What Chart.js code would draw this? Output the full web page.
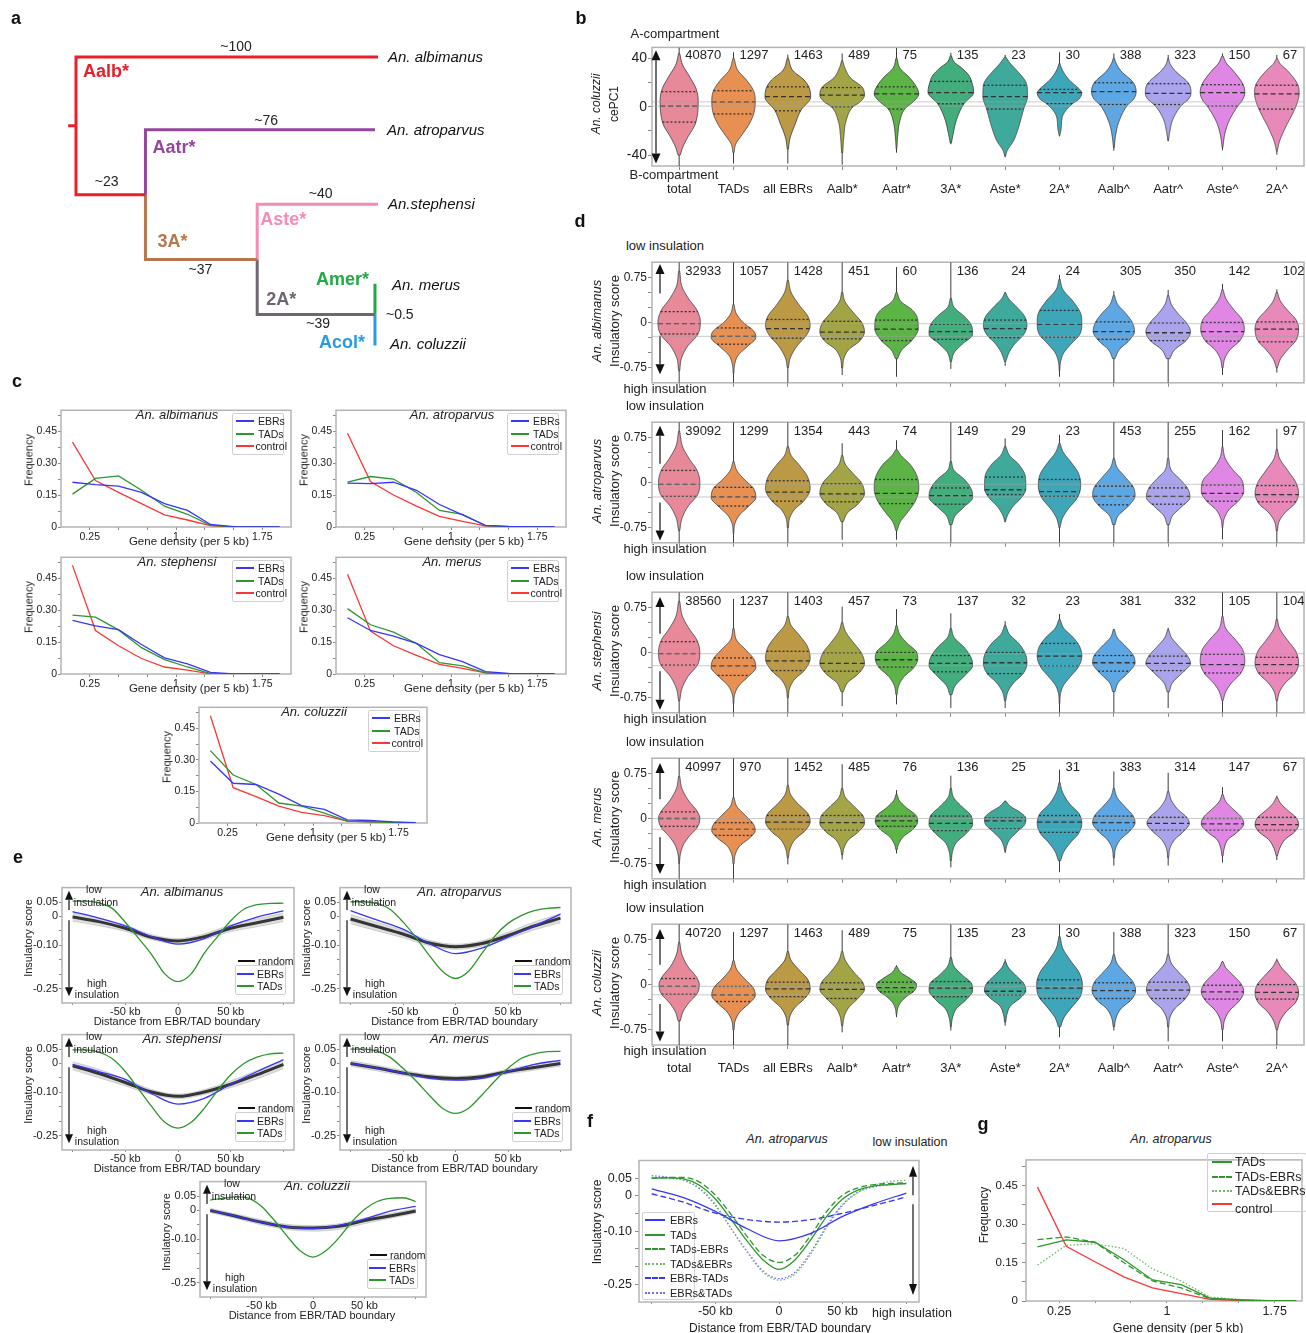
<!DOCTYPE html>
<html>
<head>
<meta charset="utf-8">
<script src="https://cdn.jsdelivr.net/npm/chart.js@4.4.1/dist/chart.umd.min.js"></script>
<style>
html,body{margin:0;padding:0;background:#fff;}
#fig{position:relative;width:1306px;height:1333px;overflow:hidden;background:#fff;
  font-family:'Liberation Sans',Arial,Helvetica,sans-serif;color:#222;}
#fig canvas{position:absolute;}
.t{position:absolute;white-space:nowrap;line-height:1;transform:translate(-50%,-50%);}
.lg{position:absolute;border:1px solid #d0d0d0;border-radius:2px;box-sizing:border-box;}
.ln{position:absolute;height:0;}
</style>
</head>
<body>
<div id="fig"></div>
<script>
// ---------------- panel a: chromosome-arm phylogeny ----------------
const treeBranches = [            // [node, parent, branch length (Myr)]
  ['albimanus', 'root', 100],
  ['n1', 'root', 23],
  ['atroparvus', 'n1', 76],
  ['n2', 'n1', 37],
  ['stephensi', 'n2', 40],
  ['n3', 'n2', 39],
  ['merus', 'n3', 0.5],
  ['coluzzii', 'n3', 0.5]
];
const treeLeafRows = { albimanus: 0, atroparvus: 0.99, stephensi: 2, merus: 3.1, coluzzii: 3.9 };
const treeLeafNames = { albimanus: 'An. albimanus', atroparvus: 'An. atroparvus', stephensi: 'An.stephensi', merus: 'An. merus', coluzzii: 'An. coluzzii' };
const treeLengthLabels = ['~100', '~23', '~76', '~37', '~40', '~39', '~0.5', ''];
const treeCladeNames = ['Aalb*', '', 'Aatr*', '3A*', 'Aste*', '2A*', 'Amer*', 'Acol*'];

// ---------------- panel b / d: violin groups ----------------
const violinCategories = ['total', 'TADs', 'all EBRs', 'Aalb*', 'Aatr*', '3A*', 'Aste*', '2A*', 'Aalb^', 'Aatr^', 'Aste^', '2A^'];

// b: An. coluzzii cePC1
const pcCounts = [40870, 1297, 1463, 489, 75, 135, 23, 30, 388, 323, 150, 67];
const pcTails = [[-49, 49], [-47, 45], [-47, 43], [-48, 44], [-38, 48.6], [-31, 44.6], [-41.7, 42.8], [-24.5, 45], [-36.4, 44], [-28.5, 42.8], [-36, 44], [-39.6, 42.8]];
const pcQuartiles = [[-12.7, 0.5, 12.4], [-6, 4, 13.2], [-3.4, 8.4, 16.4], [0, 9.5, 15.8], [-2, 10.6, 16.4], [2.4, 11.6, 20.9], [-2, 8.4, 17.7], [2.6, 11.6, 14.3], [1.8, 12.4, 19.8], [1.8, 11, 19], [0.5, 11.6, 18.2], [-2, 10.6, 17.7]];
const pcDensity = [
  [[44,0.01],[35,0.06],[25,0.19],[15,0.31],[5,0.35],[-5,0.34],[-15,0.29],[-25,0.16],[-33,0.07],[-40,0.02]],
  [[40,0.01],[30,0.08],[22,0.24],[13,0.37],[4,0.4],[-6,0.37],[-15,0.28],[-23,0.16],[-31,0.04],[-38,0.01]],
  [[40,0.01],[30,0.09],[22,0.3],[16,0.39],[8,0.42],[-3,0.24],[-15,0.13],[-26,0.04],[-35,0.01]],
  [[38,0.01],[32,0.05],[24,0.15],[16,0.37],[9.5,0.41],[4,0.33],[0,0.2],[-12,0.07],[-25,0.03],[-38,0.01]],
  [[40,0.01],[32,0.06],[24,0.24],[16,0.37],[10.6,0.41],[5,0.33],[-2,0.15],[-12,0.06],[-25,0.02],[-35,0.005]],
  [[42,0.01],[37,0.06],[32,0.2],[26,0.33],[21,0.38],[12,0.42],[2.4,0.24],[-10,0.11],[-23,0.04],[-30,0.01]],
  [[41,0.01],[36,0.09],[29.6,0.22],[22,0.36],[17.7,0.4],[8.4,0.41],[-2,0.34],[-18,0.24],[-28.5,0.15],[-36,0.04],[-41,0.005]],
  [[36,0.005],[29.6,0.06],[21.6,0.19],[14.3,0.37],[11.6,0.41],[6,0.35],[2.6,0.24],[-7.4,0.06],[-18,0.03],[-24,0.005]],
  [[40,0.01],[36,0.04],[29.6,0.13],[19.8,0.36],[12.4,0.41],[6,0.36],[1.8,0.26],[-12.7,0.09],[-23,0.035],[-34,0.005]],
  [[40,0.005],[35,0.04],[29.6,0.13],[19,0.38],[11,0.42],[6,0.37],[1.8,0.26],[-10,0.09],[-20.6,0.03],[-28,0.005]],
  [[42,0.01],[36,0.07],[29.6,0.2],[18.2,0.38],[11.6,0.41],[5,0.36],[0.5,0.28],[-12.7,0.11],[-23,0.04],[-34,0.005]],
  [[40,0.005],[35,0.07],[29.6,0.2],[17.7,0.39],[10.6,0.41],[4,0.38],[-2,0.33],[-18,0.15],[-28.5,0.05],[-37,0.005]]
];

// d: insulatory scores, one block per species
const insAlbCounts = [32933, 1057, 1428, 451, 60, 136, 24, 24, 305, 350, 142, 102];
const insAlbTails = [[-1,1],[-1,1],[-1,1],[-0.87,1],[-0.9,0.92],[-0.77,1],[-0.72,0.5],[-0.9,0.79],[-1,0.52],[-1,0.54],[-0.87,0.64],[-0.83,0.55]];
const insAlbQuartiles = [[-0.19,-0.02,0.18],[-0.36,-0.23,-0.09],[-0.26,-0.1,0.05],[-0.27,-0.16,0.02],[-0.3,-0.11,0.04],[-0.28,-0.15,-0.03],[-0.25,-0.1,0.04],[-0.24,-0.03,0.2],[-0.28,-0.15,0.01],[-0.3,-0.17,-0.01],[-0.31,-0.15,0],[-0.32,-0.11,0.01]];
const insAlbDensity = [
  [[0.85,0.01],[0.6,0.05],[0.4,0.17],[0.2,0.33],[0,0.39],[-0.2,0.34],[-0.4,0.15],[-0.6,0.04],[-0.8,0.01]],
  [[0.3,0.01],[0.15,0.05],[0,0.18],[-0.15,0.38],[-0.25,0.41],[-0.4,0.25],[-0.55,0.08],[-0.7,0.02],[-0.85,0.005]],
  [[0.7,0.01],[0.5,0.06],[0.3,0.2],[0.1,0.37],[-0.05,0.41],[-0.2,0.35],[-0.4,0.16],[-0.6,0.04],[-0.75,0.01]],
  [[0.5,0.01],[0.35,0.05],[0.15,0.22],[0,0.36],[-0.15,0.41],[-0.3,0.33],[-0.45,0.12],[-0.6,0.03],[-0.75,0.01]],
  [[0.5,0.01],[0.35,0.08],[0.2,0.3],[0.05,0.39],[-0.1,0.4],[-0.3,0.28],[-0.45,0.1],[-0.6,0.02]],
  [[0.4,0.01],[0.25,0.06],[0.1,0.25],[-0.05,0.38],[-0.2,0.4],[-0.35,0.22],[-0.5,0.06],[-0.65,0.01]],
  [[0.5,0.005],[0.4,0.06],[0.25,0.22],[0.1,0.36],[-0.05,0.4],[-0.2,0.34],[-0.35,0.18],[-0.5,0.07],[-0.65,0.01]],
  [[0.72,0.01],[0.55,0.06],[0.35,0.25],[0.15,0.39],[0,0.41],[-0.2,0.37],[-0.35,0.22],[-0.5,0.08],[-0.65,0.02],[-0.8,0.005]],
  [[0.45,0.01],[0.3,0.07],[0.15,0.22],[0,0.34],[-0.15,0.38],[-0.3,0.28],[-0.45,0.1],[-0.6,0.02]],
  [[0.45,0.01],[0.3,0.06],[0.15,0.18],[0,0.33],[-0.15,0.41],[-0.3,0.33],[-0.45,0.12],[-0.6,0.03]],
  [[0.55,0.01],[0.4,0.06],[0.2,0.22],[0.05,0.36],[-0.12,0.4],[-0.3,0.32],[-0.45,0.14],[-0.6,0.04],[-0.75,0.01]],
  [[0.5,0.01],[0.35,0.07],[0.2,0.2],[0.05,0.35],[-0.1,0.4],[-0.3,0.35],[-0.45,0.2],[-0.6,0.07],[-0.75,0.01]]
];

const insAtrCounts = [39092, 1299, 1354, 443, 74, 149, 29, 23, 453, 255, 162, 97];
const insAtrTails = [[-1,1],[-1,1],[-1,1],[-0.95,0.65],[-0.95,0.7],[-1,1],[-0.66,0.73],[-1,0.79],[-1,1],[-1,1],[-0.94,0.87],[-1,0.89]];
const insAtrQuartiles = [[-0.23,-0.03,0.2],[-0.39,-0.24,-0.08],[-0.31,-0.16,0.03],[-0.32,-0.19,-0.02],[-0.35,-0.18,0.05],[-0.36,-0.22,-0.09],[-0.2,-0.12,0.09],[-0.23,-0.15,0.05],[-0.37,-0.23,-0.06],[-0.36,-0.23,-0.09],[-0.31,-0.18,-0.04],[-0.32,-0.2,-0.05]];
const insAtrDensity = [
  [[0.85,0.01],[0.6,0.06],[0.4,0.18],[0.2,0.33],[0,0.38],[-0.2,0.34],[-0.4,0.16],[-0.6,0.05],[-0.8,0.01]],
  [[0.35,0.01],[0.2,0.06],[0.05,0.2],[-0.1,0.37],[-0.25,0.41],[-0.4,0.27],[-0.55,0.1],[-0.7,0.02],[-0.85,0.005]],
  [[0.6,0.01],[0.45,0.06],[0.3,0.2],[0.1,0.36],[-0.1,0.41],[-0.3,0.3],[-0.45,0.12],[-0.6,0.03],[-0.75,0.01]],
  [[0.45,0.01],[0.3,0.06],[0.15,0.2],[0,0.35],[-0.18,0.41],[-0.35,0.3],[-0.5,0.1],[-0.65,0.02]],
  [[0.55,0.01],[0.45,0.08],[0.3,0.25],[0.1,0.38],[-0.1,0.41],[-0.3,0.35],[-0.5,0.2],[-0.65,0.07],[-0.8,0.01]],
  [[0.35,0.01],[0.2,0.06],[0.05,0.25],[-0.12,0.38],[-0.25,0.4],[-0.4,0.25],[-0.55,0.08],[-0.7,0.02]],
  [[0.6,0.01],[0.45,0.08],[0.3,0.25],[0.1,0.37],[-0.1,0.38],[-0.25,0.3],[-0.4,0.14],[-0.55,0.04],[-0.65,0.005]],
  [[0.65,0.01],[0.5,0.07],[0.35,0.2],[0.15,0.35],[-0.05,0.39],[-0.25,0.33],[-0.45,0.15],[-0.6,0.05],[-0.75,0.01]],
  [[0.4,0.01],[0.25,0.06],[0.1,0.2],[-0.08,0.36],[-0.22,0.39],[-0.38,0.28],[-0.55,0.08],[-0.7,0.02]],
  [[0.4,0.01],[0.2,0.06],[0.05,0.22],[-0.1,0.36],[-0.25,0.4],[-0.4,0.25],[-0.55,0.08],[-0.7,0.02]],
  [[0.6,0.005],[0.4,0.05],[0.2,0.2],[0.05,0.35],[-0.15,0.39],[-0.3,0.3],[-0.45,0.12],[-0.6,0.03],[-0.75,0.005]],
  [[0.55,0.01],[0.4,0.05],[0.2,0.2],[0,0.35],[-0.18,0.4],[-0.35,0.33],[-0.5,0.15],[-0.65,0.04],[-0.8,0.01]]
];

const insSteCounts = [38560, 1237, 1403, 457, 73, 137, 32, 23, 381, 332, 105, 104];
const insSteTails = [[-1,1],[-1,0.89],[-1,1],[-0.89,0.76],[-0.86,0.72],[-0.92,0.65],[-0.92,0.52],[-1,0.64],[-1,0.39],[-0.92,0.41],[-1,1],[-1,1]];
const insSteQuartiles = [[-0.21,-0.02,0.18],[-0.38,-0.22,-0.09],[-0.3,-0.14,0.02],[-0.31,-0.18,-0.01],[-0.24,-0.12,0],[-0.32,-0.18,-0.05],[-0.35,-0.17,0],[-0.22,-0.06,0.15],[-0.31,-0.17,-0.05],[-0.3,-0.18,-0.06],[-0.34,-0.2,-0.03],[-0.34,-0.2,-0.08]];
const insSteDensity = [
  [[0.85,0.01],[0.6,0.06],[0.4,0.18],[0.2,0.33],[0,0.38],[-0.2,0.34],[-0.4,0.16],[-0.6,0.05],[-0.8,0.01]],
  [[0.4,0.01],[0.2,0.06],[0.05,0.22],[-0.12,0.38],[-0.25,0.41],[-0.4,0.27],[-0.55,0.1],[-0.7,0.02],[-0.85,0.005]],
  [[0.6,0.01],[0.45,0.06],[0.3,0.2],[0.1,0.36],[-0.1,0.41],[-0.3,0.3],[-0.45,0.12],[-0.6,0.03],[-0.75,0.01]],
  [[0.5,0.01],[0.35,0.06],[0.15,0.22],[0,0.35],[-0.18,0.41],[-0.35,0.3],[-0.5,0.1],[-0.65,0.02]],
  [[0.45,0.01],[0.3,0.06],[0.15,0.2],[0.02,0.36],[-0.1,0.39],[-0.25,0.32],[-0.4,0.14],[-0.55,0.04],[-0.7,0.01]],
  [[0.4,0.01],[0.25,0.06],[0.08,0.25],[-0.1,0.38],[-0.22,0.4],[-0.38,0.26],[-0.55,0.08],[-0.7,0.02]],
  [[0.45,0.01],[0.3,0.08],[0.15,0.25],[-0.02,0.37],[-0.18,0.4],[-0.35,0.33],[-0.5,0.16],[-0.65,0.05],[-0.8,0.01]],
  [[0.55,0.01],[0.4,0.08],[0.25,0.25],[0.1,0.37],[-0.06,0.41],[-0.25,0.34],[-0.4,0.2],[-0.55,0.07],[-0.7,0.015],[-0.85,0.005]],
  [[0.38,0.01],[0.25,0.06],[0.1,0.22],[-0.05,0.36],[-0.17,0.39],[-0.32,0.28],[-0.5,0.08],[-0.65,0.02]],
  [[0.38,0.01],[0.25,0.06],[0.1,0.2],[-0.05,0.35],[-0.18,0.41],[-0.32,0.28],[-0.5,0.08],[-0.65,0.02]],
  [[0.6,0.01],[0.4,0.06],[0.2,0.25],[0.05,0.37],[-0.15,0.41],[-0.35,0.33],[-0.5,0.17],[-0.65,0.06],[-0.8,0.01]],
  [[0.55,0.01],[0.4,0.05],[0.2,0.2],[0.02,0.35],[-0.18,0.4],[-0.35,0.33],[-0.5,0.16],[-0.65,0.05],[-0.8,0.01]]
];

const insMerCounts = [40997, 970, 1452, 485, 76, 136, 25, 31, 383, 314, 147, 67];
const insMerTails = [[-1,1],[-1,1],[-0.76,1],[-0.68,0.9],[-0.58,0.47],[-0.81,0.71],[-0.57,0.3],[-0.89,0.81],[-0.78,0.78],[-0.78,0.76],[-0.73,0.52],[-0.69,0.38]];
const insMerQuartiles = [[-0.13,0,0.11],[-0.28,-0.18,-0.07],[-0.18,-0.06,0.05],[-0.19,-0.07,0.05],[-0.13,-0.04,0.04],[-0.2,-0.08,0.04],[-0.17,-0.04,0.01],[-0.23,-0.06,0.05],[-0.19,-0.07,0.04],[-0.19,-0.08,0.02],[-0.19,-0.09,0],[-0.19,-0.1,0.02]];
const insMerDensity = [
  [[0.7,0.01],[0.5,0.05],[0.3,0.17],[0.12,0.33],[0,0.38],[-0.15,0.33],[-0.3,0.18],[-0.45,0.07],[-0.6,0.02],[-0.75,0.005]],
  [[0.35,0.01],[0.2,0.06],[0.05,0.22],[-0.1,0.37],[-0.2,0.4],[-0.32,0.3],[-0.45,0.12],[-0.6,0.03],[-0.75,0.01]],
  [[0.55,0.01],[0.4,0.05],[0.25,0.18],[0.08,0.37],[-0.05,0.41],[-0.2,0.32],[-0.35,0.13],[-0.5,0.04],[-0.65,0.01]],
  [[0.5,0.01],[0.35,0.06],[0.2,0.22],[0.05,0.38],[-0.08,0.41],[-0.22,0.3],[-0.35,0.12],[-0.5,0.03],[-0.6,0.01]],
  [[0.4,0.01],[0.3,0.05],[0.18,0.18],[0.05,0.36],[-0.05,0.39],[-0.18,0.3],[-0.3,0.13],[-0.42,0.04],[-0.52,0.01]],
  [[0.5,0.01],[0.35,0.05],[0.2,0.2],[0.05,0.37],[-0.1,0.4],[-0.25,0.28],[-0.4,0.1],[-0.55,0.03],[-0.7,0.01]],
  [[0.28,0.02],[0.2,0.1],[0.1,0.28],[0,0.38],[-0.1,0.36],[-0.22,0.22],[-0.35,0.08],[-0.45,0.03],[-0.55,0.005]],
  [[0.6,0.01],[0.45,0.05],[0.25,0.18],[0.08,0.36],[-0.08,0.41],[-0.25,0.35],[-0.4,0.2],[-0.55,0.08],[-0.7,0.02]],
  [[0.5,0.01],[0.35,0.06],[0.2,0.2],[0.05,0.35],[-0.07,0.39],[-0.2,0.3],[-0.35,0.12],[-0.5,0.03],[-0.65,0.01]],
  [[0.45,0.01],[0.3,0.06],[0.15,0.18],[0.02,0.34],[-0.08,0.39],[-0.2,0.3],[-0.35,0.12],[-0.5,0.03],[-0.65,0.01]],
  [[0.4,0.01],[0.28,0.06],[0.15,0.2],[0.02,0.35],[-0.09,0.39],[-0.22,0.28],[-0.35,0.1],[-0.5,0.03],[-0.62,0.01]],
  [[0.35,0.01],[0.25,0.07],[0.12,0.22],[0.02,0.35],[-0.1,0.4],[-0.22,0.33],[-0.35,0.15],[-0.5,0.05],[-0.62,0.01]]
];

const insColCounts = [40720, 1297, 1463, 489, 75, 135, 23, 30, 388, 323, 150, 67];
const insColTails = [[-1,1],[-1,0.87],[-1,1],[-0.79,0.9],[-0.54,0.32],[-0.76,1],[-0.68,0.42],[-0.87,1],[-0.76,0.87],[-0.94,1],[-0.94,0.39],[-1,0.43]];
const insColQuartiles = [[-0.16,-0.03,0.1],[-0.28,-0.17,-0.03],[-0.2,-0.07,0.04],[-0.23,-0.08,0.03],[-0.12,-0.05,0.04],[-0.2,-0.06,0.05],[-0.17,-0.11,0.03],[-0.23,-0.06,0.08],[-0.23,-0.1,0.03],[-0.23,-0.09,0.04],[-0.24,-0.12,-0.01],[-0.24,-0.13,0]];
const insColDensity = [
  [[0.7,0.01],[0.5,0.05],[0.3,0.16],[0.12,0.32],[0,0.37],[-0.15,0.33],[-0.3,0.18],[-0.45,0.07],[-0.6,0.02]],
  [[0.4,0.01],[0.25,0.06],[0.1,0.2],[-0.05,0.36],[-0.18,0.4],[-0.3,0.3],[-0.45,0.12],[-0.6,0.03],[-0.75,0.01]],
  [[0.55,0.01],[0.4,0.06],[0.25,0.2],[0.08,0.37],[-0.08,0.41],[-0.22,0.32],[-0.38,0.13],[-0.52,0.04],[-0.67,0.01]],
  [[0.55,0.01],[0.4,0.06],[0.2,0.22],[0.05,0.37],[-0.08,0.41],[-0.22,0.3],[-0.38,0.12],[-0.52,0.04],[-0.68,0.01]],
  [[0.3,0.01],[0.2,0.08],[0.1,0.25],[0,0.37],[-0.1,0.33],[-0.2,0.18],[-0.3,0.07],[-0.4,0.02],[-0.5,0.005]],
  [[0.45,0.01],[0.3,0.06],[0.15,0.22],[0.02,0.38],[-0.1,0.4],[-0.25,0.28],[-0.4,0.1],[-0.55,0.03],[-0.7,0.005]],
  [[0.38,0.01],[0.28,0.06],[0.15,0.2],[0.02,0.34],[-0.1,0.38],[-0.22,0.28],[-0.35,0.1],[-0.5,0.03],[-0.62,0.01]],
  [[0.8,0.01],[0.6,0.06],[0.4,0.2],[0.2,0.36],[0,0.42],[-0.2,0.38],[-0.38,0.22],[-0.55,0.08],[-0.7,0.02]],
  [[0.5,0.01],[0.35,0.06],[0.2,0.2],[0.05,0.35],[-0.1,0.4],[-0.25,0.32],[-0.4,0.13],[-0.55,0.04],[-0.7,0.01]],
  [[0.5,0.01],[0.35,0.06],[0.2,0.2],[0.05,0.35],[-0.08,0.4],[-0.25,0.3],[-0.4,0.12],[-0.55,0.03],[-0.7,0.01]],
  [[0.38,0.01],[0.28,0.06],[0.15,0.2],[0,0.35],[-0.12,0.39],[-0.28,0.3],[-0.42,0.14],[-0.58,0.04],[-0.75,0.01]],
  [[0.4,0.01],[0.3,0.07],[0.15,0.22],[0,0.36],[-0.14,0.4],[-0.3,0.34],[-0.45,0.17],[-0.6,0.06],[-0.75,0.01]]
];

// ---------------- panel c / g: gene density histograms ----------------
const densityBins = [0.1, 0.3, 0.5, 0.7, 0.9, 1.1, 1.3, 1.5, 1.7, 1.9];
const albEBRs = [0.211, 0.2, 0.193, 0.163, 0.11, 0.078, 0.012, 0.002, 0, 0];
const albTADs = [0.155, 0.229, 0.241, 0.173, 0.098, 0.06, 0.008, 0.001, 0, 0];
const albControl = [0.4, 0.219, 0.163, 0.11, 0.057, 0.033, 0.006, 0.001, 0, 0];
const atrEBRs = [0.207, 0.204, 0.211, 0.173, 0.106, 0.057, 0.008, 0.003, 0.001, 0];
const atrTADs = [0.211, 0.238, 0.226, 0.163, 0.078, 0.06, 0.006, 0.002, 0, 0];
const atrControl = [0.442, 0.214, 0.151, 0.098, 0.05, 0.027, 0.005, 0.001, 0, 0];
const steEBRs = [0.253, 0.227, 0.209, 0.139, 0.076, 0.048, 0.008, 0.001, 0, 0];
const steTADs = [0.277, 0.268, 0.208, 0.124, 0.068, 0.033, 0.002, 0, 0, 0];
const steControl = [0.512, 0.205, 0.133, 0.073, 0.033, 0.018, 0.001, 0, 0, 0];
const merEBRs = [0.265, 0.205, 0.179, 0.144, 0.091, 0.058, 0.011, 0.003, 0.002, 0.002];
const merTADs = [0.308, 0.232, 0.197, 0.144, 0.053, 0.038, 0.005, 0.001, 0, 0];
const merControl = [0.47, 0.202, 0.133, 0.088, 0.045, 0.027, 0.005, 0.001, 0, 0];
const colEBRs = [0.295, 0.189, 0.183, 0.137, 0.083, 0.065, 0.015, 0.012, 0.005, 0.002];
const colTADs = [0.344, 0.228, 0.183, 0.095, 0.08, 0.047, 0.009, 0.005, 0.003, 0.001];
const colControl = [0.51, 0.168, 0.125, 0.08, 0.05, 0.035, 0.009, 0.006, 0.003, 0.001];
const gTADs = [0.211, 0.238, 0.229, 0.162, 0.082, 0.064, 0.011, 0.005, 0.001, 0];
const gTADsMinusEBRs = [0.239, 0.25, 0.229, 0.15, 0.078, 0.051, 0.009, 0.003, 0.001, 0];
const gTADsAndEBRs = [0.14, 0.217, 0.223, 0.205, 0.125, 0.078, 0.015, 0.006, 0.002, 0];
const gControl = [0.444, 0.213, 0.153, 0.094, 0.051, 0.029, 0.006, 0.002, 0.001, 0];
const densityTicks = [0.25, 0.5, 0.75, 1, 1.25, 1.5, 1.75];
const densityTickLabels = { 0.25: '0.25', 1: '1', 1.75: '1.75' };
const freqTicks = [0, 0.075, 0.15, 0.225, 0.3, 0.375, 0.45, 0.525];
const freqTickLabels = { 0: '0', 0.15: '0.15', 0.3: '0.30', 0.45: '0.45' };

// ---------------- panel e / f: insulation profiles around boundaries ----------------
const distCoarse = [-100, -75, -50, -25, 0, 25, 50, 75, 100];
const distFine = [-100, -87.5, -75, -62.5, -50, -37.5, -25, -12.5, 0, 12.5, 25, 37.5, 50, 62.5, 75, 87.5, 100];
const eAlbTADs = [0.053, 0.053, 0.047, 0.028, -0.02, -0.075, -0.132, -0.199, -0.226, -0.199, -0.127, -0.07, -0.015, 0.025, 0.041, 0.045, 0.046];
const eAlbEBRs = [0.017, -0.006, -0.033, -0.07, -0.096, -0.077, -0.033, -0.002, 0.019];
const eAlbRandom = [-0.002, -0.018, -0.041, -0.072, -0.085, -0.07, -0.041, -0.022, -0.003];
const eAlbRandomLow = [-0.017, -0.032, -0.052, -0.081, -0.094, -0.08, -0.053, -0.036, -0.018];
const eAlbRandomHigh = [0.013, -0.005, -0.03, -0.063, -0.076, -0.06, -0.029, -0.008, 0.012];
const eAtrTADs = [0.051, 0.051, 0.045, 0.025, -0.019, -0.074, -0.135, -0.19, -0.215, -0.19, -0.129, -0.068, -0.024, 0.003, 0.02, 0.028, 0.031];
const eAtrEBRs = [0.02, -0.012, -0.044, -0.094, -0.129, -0.11, -0.072, -0.033, 0.008];
const eAtrRandom = [-0.009, -0.035, -0.061, -0.092, -0.105, -0.094, -0.066, -0.033, -0.006];
const eAtrRandomLow = [-0.025, -0.05, -0.074, -0.102, -0.114, -0.104, -0.078, -0.047, -0.022];
const eAtrRandomHigh = [0.007, -0.02, -0.048, -0.082, -0.096, -0.084, -0.054, -0.019, 0.01];
const eSteTADs = [0.047, 0.047, 0.039, 0.017, -0.028, -0.088, -0.149, -0.204, -0.224, -0.204, -0.155, -0.094, -0.039, 0, 0.022, 0.033, 0.036];
const eSteEBRs = [-0.003, -0.028, -0.055, -0.105, -0.141, -0.121, -0.072, -0.028, 0.013];
const eSteRandom = [-0.008, -0.035, -0.066, -0.099, -0.114, -0.099, -0.072, -0.039, -0.003];
const eSteRandomLow = [-0.022, -0.05, -0.078, -0.108, -0.122, -0.108, -0.084, -0.054, -0.018];
const eSteRandomHigh = [0.006, -0.02, -0.054, -0.09, -0.106, -0.09, -0.06, -0.024, 0.012];
const eMerTADs = [0.05, 0.05, 0.044, 0.022, -0.017, -0.061, -0.11, -0.155, -0.173, -0.155, -0.11, -0.061, -0.017, 0.017, 0.033, 0.041, 0.042];
const eMerEBRs = [0, -0.016, -0.033, -0.052, -0.058, -0.052, -0.028, -0.003, 0.011];
const eMerRandom = [0, -0.016, -0.033, -0.046, -0.052, -0.046, -0.028, -0.014, 0];
const eMerRandomLow = [-0.01, -0.026, -0.042, -0.054, -0.06, -0.054, -0.037, -0.024, -0.01];
const eMerRandomHigh = [0.01, -0.006, -0.024, -0.038, -0.044, -0.038, -0.019, -0.004, 0.01];
const eColTADs = [0.036, 0.042, 0.047, 0.042, 0.014, -0.035, -0.09, -0.14, -0.162, -0.14, -0.096, -0.041, 0.003, 0.031, 0.042, 0.044, 0.031];
const eColEBRs = [0, -0.02, -0.041, -0.057, -0.063, -0.052, -0.03, -0.002, 0.014];
const eColRandom = [0, -0.02, -0.041, -0.057, -0.061, -0.055, -0.035, -0.019, -0.002];
const eColRandomLow = [-0.008, -0.028, -0.05, -0.066, -0.072, -0.066, -0.046, -0.028, -0.01];
const eColRandomHigh = [0.008, -0.012, -0.032, -0.048, -0.052, -0.046, -0.026, -0.01, 0.006];
const fEBRs = [0.02, -0.005, -0.044, -0.093, -0.127, -0.106, -0.058, -0.022, 0.008];
const fTADs = [0.05, 0.051, 0.048, 0.03, -0.009, -0.067, -0.128, -0.181, -0.208, -0.181, -0.124, -0.058, -0.009, 0.017, 0.028, 0.032, 0.035];
const fTADsMinusEBRs = [0.05, 0.052, 0.052, 0.039, 0.002, -0.053, -0.115, -0.168, -0.188, -0.168, -0.111, -0.044, 0.002, 0.023, 0.032, 0.035, 0.037];
const fTADsAndEBRs = [0.052, 0.05, 0.044, 0.022, -0.024, -0.093, -0.159, -0.216, -0.238, -0.221, -0.164, -0.089, -0.027, 0.011, 0.03, 0.041, 0.044];
const fEBRsMinusTADs = [0.006, -0.018, -0.049, -0.067, -0.074, -0.067, -0.049, -0.027, -0.003];
const fEBRsAndTADs = [0.057, 0.053, 0.044, 0.02, -0.027, -0.093, -0.157, -0.212, -0.234, -0.216, -0.159, -0.084, -0.024, 0.011, 0.026, 0.032, 0.035];
const distTicks = [-100, -50, 0, 50, 100];
const distTickLabels = { '-50': '-50 kb', 0: '0', 50: '50 kb' };
const scoreTicks = [0.05, 0, -0.05, -0.1, -0.15, -0.2, -0.25];
const scoreTickLabels = { 0.05: '0.05', 0: '0', '-0.1': '-0.10', '-0.25': '-0.25' };

// ================= drawing =================
const FONT = "'Liberation Sans', Arial, Helvetica, sans-serif";
Chart.defaults.font.family = FONT;
Chart.defaults.font.size = 13;
Chart.defaults.color = '#222';
Chart.defaults.animation = false;
Chart.defaults.responsive = false;
Chart.defaults.plugins.legend.display = false;
Chart.defaults.plugins.tooltip.enabled = false;

const BLUE = 'rgb(55,55,245)', GREEN = 'rgb(45,150,45)', RED = 'rgb(250,55,55)', LIGHTGREEN = 'rgb(110,185,110)';
const violinColours = ['#E8899A', '#E88F52', '#BC9A45', '#A3A445', '#5DB446', '#42AD7D', '#3FAA9C', '#3EA6B9', '#5DA8E4', '#AAA4EC', '#E086E4', '#E889BA'];
const treeColours = ['#E8202B', '#E8202B', '#94479C', '#B8764F', '#F68BB5', '#6E6670', '#22A845', '#2A9BE0'];
const FRAME = { color: '#b4b4b4', width: 1.5 };

const fig = document.getElementById('fig');

function addText(s, x, y, css) {
  const d = document.createElement('div');
  d.className = 't';
  d.textContent = s;
  d.style.left = x + 'px';
  d.style.top = y + 'px';
  if (css) Object.assign(d.style, css);
  fig.appendChild(d);
  return d;
}
const LEFT = { transform: 'translate(0,-50%)' };
const ROT = 'translate(-50%,-50%) rotate(-90deg)';

function lab(map) {
  return v => {
    const k = String(+(+v).toFixed(4));
    return Object.prototype.hasOwnProperty.call(map, k) ? map[k] : '';
  };
}
function pts(xs, ys) { return xs.map((x, i) => ({ x, y: ys[i] })); }

function axis(min, max, tickVals, labelOf, o) {
  o = o || {};
  return {
    type: 'linear', min, max, bounds: 'data',
    afterBuildTicks: s => { s.ticks = tickVals.map(v => ({ value: v })); },
    ticks: { callback: v => labelOf(v), autoSkip: false, maxRotation: 0, minRotation: 0,
             padding: o.pad ?? 2, font: { size: o.size || 13 }, color: '#222' },
    grid: { display: true, drawOnChartArea: false, drawTicks: true, tickLength: o.tl ?? 4, color: '#8a8a8a', lineWidth: 1 },
    border: { display: false }
  };
}

// canvas placed so that the chart area falls exactly on `frame` = [left, top, right, bottom]
function makeChart(frame, pad, cfg) {
  const [l, t, r, b] = frame, [pl, pt, pr, pb] = pad;
  const cv = document.createElement('canvas');
  const W = r - l + pl + pr, H = b - t + pt + pb;
  cv.width = W; cv.height = H;
  cv.style.left = (l - pl) + 'px'; cv.style.top = (t - pt) + 'px';
  cv.style.width = W + 'px'; cv.style.height = H + 'px';
  fig.appendChild(cv);
  cfg.options.layout = { autoPadding: false, padding: { left: 0, top: pt, right: pr, bottom: 0 } };
  cfg.options.scales.x.afterFit = s => { s.height = pb; };
  cfg.options.scales.y.afterFit = s => { s.width = pl; };
  return new Chart(cv, cfg);
}

// monotone cubic interpolation through [value, width] knots
function monotone(knots) {
  const n = knots.length, xs = knots.map(k => k[0]), ys = knots.map(k => k[1]);
  const d = [], m = [];
  for (let i = 0; i < n - 1; i++) d.push((ys[i + 1] - ys[i]) / (xs[i + 1] - xs[i]));
  m[0] = d[0]; m[n - 1] = d[n - 2];
  for (let i = 1; i < n - 1; i++) m[i] = d[i - 1] * d[i] <= 0 ? 0 : (d[i - 1] + d[i]) / 2;
  for (let i = 0; i < n - 1; i++) {
    if (d[i] === 0) { m[i] = 0; m[i + 1] = 0; continue; }
    const a = m[i] / d[i], b = m[i + 1] / d[i], s = a * a + b * b;
    if (s > 9) { const tt = 3 / Math.sqrt(s); m[i] = tt * a * d[i]; m[i + 1] = tt * b * d[i]; }
  }
  return v => {
    if (v <= xs[0]) return ys[0];
    if (v >= xs[n - 1]) return ys[n - 1];
    let i = 0; while (v > xs[i + 1]) i++;
    const h = xs[i + 1] - xs[i], t = (v - xs[i]) / h, t2 = t * t, t3 = t2 * t;
    return Math.max(0, (2 * t3 - 3 * t2 + 1) * ys[i] + (t3 - 2 * t2 + t) * h * m[i] + (-2 * t3 + 3 * t2) * ys[i + 1] + (t3 - t2) * h * m[i + 1]);
  };
}

const framePlugin = {
  id: 'frame',
  beforeDatasetsDraw(chart, args, o) {
    if (!o || !o.color) return;
    const { ctx, chartArea: a } = chart;
    ctx.save(); ctx.strokeStyle = o.color; ctx.lineWidth = o.width || 1.5;
    ctx.strokeRect(a.left, a.top, a.right - a.left, a.bottom - a.top);
    ctx.restore();
  }
};

const arrowPlugin = {
  id: 'arrows',
  afterDatasetsDraw(chart, args, o) {
    if (!o || !o.list) return;
    const { ctx, chartArea: a, scales: { y } } = chart;
    ctx.save(); ctx.strokeStyle = '#111'; ctx.fillStyle = '#111'; ctx.lineWidth = 1.2;
    for (const [dx, v0, v1] of o.list) {
      const x = dx >= 0 ? a.left + dx : a.right + dx;
      const p0 = y.getPixelForValue(v0), p1 = y.getPixelForValue(v1);
      const dir = Math.sign(p1 - p0), hl = o.head || 10, hw = o.half || 4.5;
      ctx.beginPath(); ctx.moveTo(x, p0); ctx.lineTo(x, p1 - dir * hl); ctx.stroke();
      ctx.beginPath(); ctx.moveTo(x, p1); ctx.lineTo(x - hw, p1 - dir * hl); ctx.lineTo(x + hw, p1 - dir * hl); ctx.closePath(); ctx.fill();
    }
    ctx.restore();
  }
};

const violinPlugin = {
  id: 'violins',
  afterDatasetsDraw(chart, args, o) {
    if (!o || !o.density) return;
    const { ctx, chartArea: a, scales: { x, y } } = chart;
    const cw = x.getPixelForValue(1) - x.getPixelForValue(0);
    ctx.save();
    ctx.beginPath(); ctx.rect(a.left, a.top, a.right - a.left, a.bottom - a.top); ctx.clip();
    o.density.forEach((knots, i) => {
      const cx = x.getPixelForValue(i);
      const ks = knots.slice().sort((p, q) => p[0] - q[0]);
      const wf = monotone(ks);
      const [lo, hi] = o.tails[i];
      ctx.setLineDash([]);
      ctx.strokeStyle = '#3c3c3c'; ctx.lineWidth = 1;
      ctx.beginPath(); ctx.moveTo(cx, y.getPixelForValue(lo)); ctx.lineTo(cx, y.getPixelForValue(hi)); ctx.stroke();
      const pBot = y.getPixelForValue(ks[0][0]), pTop = y.getPixelForValue(ks[ks.length - 1][0]);
      const side = [];
      for (let p = pBot; p >= pTop; p -= 1) side.push([wf(y.getValueForPixel(p)) * cw, p]);
      side.push([wf(ks[ks.length - 1][0]) * cw, pTop]);
      ctx.beginPath();
      side.forEach(([hw, py], k) => k ? ctx.lineTo(cx - hw, py) : ctx.moveTo(cx - hw, py));
      for (let k = side.length - 1; k >= 0; k--) ctx.lineTo(cx + side[k][0], side[k][1]);
      ctx.closePath();
      ctx.fillStyle = o.colours[i]; ctx.fill();
      ctx.strokeStyle = '#4a4a4a'; ctx.lineWidth = 0.9; ctx.stroke();
      const [q1, med, q3] = o.quartiles[i];
      [[q1, [2, 2]], [med, [5, 3]], [q3, [2, 2]]].forEach(([v, dash]) => {
        const hw = wf(v) * cw, py = y.getPixelForValue(v);
        ctx.setLineDash(dash); ctx.strokeStyle = '#333'; ctx.lineWidth = 1.3;
        ctx.beginPath(); ctx.moveTo(cx - hw, py); ctx.lineTo(cx + hw, py); ctx.stroke();
      });
      ctx.setLineDash([]);
    });
    // reference lines at the medians of the genome-wide and TAD groups
    ctx.strokeStyle = 'rgba(160,160,160,0.55)'; ctx.lineWidth = 1;
    [0, 1].forEach(g => {
      const py = y.getPixelForValue(o.quartiles[g][1]);
      ctx.beginPath(); ctx.moveTo(a.left, py); ctx.lineTo(a.right, py); ctx.stroke();
    });
    ctx.restore();
    ctx.save();
    ctx.font = '13px ' + FONT; ctx.fillStyle = '#222'; ctx.textAlign = 'left'; ctx.textBaseline = 'middle';
    o.counts.forEach((c, i) => ctx.fillText(String(c), x.getPixelForValue(i) + 6, y.getPixelForValue(o.countAt)));
    ctx.restore();
  }
};

const treePlugin = {
  id: 'treeLabels',
  afterDatasetsDraw(chart, args, o) {
    if (!o || !o.nodes) return;
    const { ctx, scales: { x, y } } = chart;
    const { depth, row } = o.nodes;
    const X = n => x.getPixelForValue(depth[n]), Y = n => y.getPixelForValue(row[n]);
    ctx.save(); ctx.textBaseline = 'middle';
    treeBranches.forEach(([n, p], i) => {
      const L = o.layout[i];
      const txt = treeLengthLabels[i];
      if (txt) {
        ctx.font = '14px ' + FONT; ctx.fillStyle = '#222';
        if (L.lab === 'node') { ctx.textAlign = 'left'; ctx.fillText(txt, X(p) + 11, Y(p) + 1); }
        else { ctx.textAlign = 'center'; ctx.fillText(txt, (X(p) + X(n)) / 2 + L.lab[0], Y(n) + L.lab[1]); }
      }
      if (treeCladeNames[i]) {
        ctx.font = 'bold 18px ' + FONT; ctx.fillStyle = treeColours[i]; ctx.textAlign = L.clade[2];
        ctx.fillText(treeCladeNames[i], X(p) + L.clade[0], Y(n) + L.clade[1]);
      }
      if (treeLeafNames[n]) {
        ctx.font = 'italic 15px ' + FONT; ctx.fillStyle = '#111'; ctx.textAlign = 'left';
        ctx.fillText(treeLeafNames[n], X(n) + L.leaf, Y(n) + 1);
      }
    });
    ctx.restore();
  }
};
Chart.register(framePlugin, arrowPlugin, violinPlugin, treePlugin);

// ---------- panel a ----------
(function () {
  const depth = { root: 0 }, row = {};
  treeBranches.forEach(([n, p, len]) => { depth[n] = depth[p] + len; });
  const rowOf = n => {
    if (n in treeLeafRows) return treeLeafRows[n];
    const kids = treeBranches.filter(b => b[1] === n).map(b => rowOf(b[0]));
    return kids.reduce((s, v) => s + v, 0) / kids.length;
  };
  Object.keys(depth).forEach(n => { row[n] = rowOf(n); });
  const rootStub = 2.6;
  const datasets = [{ data: [{ x: -rootStub, y: row.root }, { x: 0, y: row.root }], borderColor: treeColours[0] }];
  treeBranches.forEach(([n, p], i) => datasets.push({
    data: [{ x: depth[p], y: row[p] }, { x: depth[p], y: row[n] }, { x: depth[n], y: row[n] }],
    borderColor: treeColours[i]
  }));
  datasets.forEach(d => Object.assign(d, { showLine: true, pointRadius: 0, borderWidth: 3, tension: 0, borderJoinStyle: 'miter', borderCapStyle: 'butt' }));
  const cv = document.createElement('canvas');
  cv.width = 490; cv.height = 400; cv.style.left = '0px'; cv.style.top = '0px';
  fig.appendChild(cv);
  new Chart(cv, {
    type: 'scatter',
    data: { datasets },
    options: {
      layout: { autoPadding: false, padding: { left: 15.6, right: 21.4, top: 20.2, bottom: 11.8 } },
      scales: { x: { display: false, min: -20, max: 130 }, y: { display: false, min: -0.5, max: 4.5, reverse: true } },
      plugins: {
        treeLabels: {
          nodes: { depth, row },
          layout: [
            { lab: [9, -10], clade: [7, 15, 'left'], leaf: 10 },
            { lab: [-4, -12] },
            { lab: [6, -9], clade: [7, 18, 'left'], leaf: 12 },
            { lab: [-1, 11], clade: [12, -17, 'left'] },
            { lab: [3, -10], clade: [3, 16, 'left'], leaf: 10 },
            { lab: [2, 10], clade: [9, -15, 'left'] },
            { lab: 'node', clade: [-6, -5, 'right'], leaf: 15.5 },
            { clade: [-10, -1, 'right'], leaf: 13.5 }
          ]
        }
      }
    }
  });
})();

// ---------- panels b and d ----------
function violinChart(frame, set, showCats, yMin, yMax, yTicks, yLabels, countAt, arrows, tickSize) {
  return makeChart(frame, [60, 4, 2, showCats ? 34 : 8], {
    type: 'line',
    data: { labels: violinCategories, datasets: [] },
    options: {
      scales: {
        x: {
          type: 'category', offset: true,
          grid: { display: true, offset: false, drawOnChartArea: false, tickLength: 4, color: '#8a8a8a' },
          border: { display: false },
          ticks: { callback: (v, i) => showCats ? violinCategories[i] : '', padding: 12, font: { size: 13 }, maxRotation: 0, autoSkip: false, color: '#222' }
        },
        y: axis(yMin, yMax, yTicks, lab(yLabels), { size: tickSize, tl: 4, pad: 1 })
      },
      plugins: {
        frame: FRAME,
        violins: Object.assign({ colours: violinColours, countAt }, set),
        arrows: { list: arrows }
      }
    }
  });
}
violinChart([652, 42, 1304, 166], { counts: pcCounts, tails: pcTails, quartiles: pcQuartiles, density: pcDensity },
  true, -49, 49, [-40, -20, 0, 20, 40], { 40: '40', 0: '0', '-40': '-40' }, 42, [[4, 0, 46.7], [4, 0, -47]], 14);

const dTicks = [-0.75, -0.5, -0.25, 0, 0.25, 0.5, 0.75];
const dLabels = { 0.75: '0.75', 0: '0', '-0.75': '-0.75' };
const dBlocks = [
  { frame: [652, 258, 1304, 383], set: { counts: insAlbCounts, tails: insAlbTails, quartiles: insAlbQuartiles, density: insAlbDensity }, name: 'An. albimanus', arrows: [[8, 0.48, 0.97], [8, -0.22, -0.86]] },
  { frame: [652, 418, 1304, 543], set: { counts: insAtrCounts, tails: insAtrTails, quartiles: insAtrQuartiles, density: insAtrDensity }, name: 'An. atroparvus', arrows: [[8, 0.31, 0.94], [8, -0.33, -0.96]] },
  { frame: [652, 588, 1304, 713], set: { counts: insSteCounts, tails: insSteTails, quartiles: insSteQuartiles, density: insSteDensity }, name: 'An. stephensi', arrows: [[8, 0.31, 0.92], [8, -0.31, -0.95]] },
  { frame: [652, 754, 1304, 879], set: { counts: insMerCounts, tails: insMerTails, quartiles: insMerQuartiles, density: insMerDensity }, name: 'An. merus', arrows: [[8, 0.32, 0.92], [8, -0.31, -0.92]] },
  { frame: [652, 920, 1304, 1045], set: { counts: insColCounts, tails: insColTails, quartiles: insColQuartiles, density: insColDensity }, name: 'An. coluzzii', arrows: [[8, 0.33, 0.92], [8, -0.32, -0.94]] }
];
dBlocks.forEach((blk, k) => {
  violinChart(blk.frame, blk.set, k === 4, -1, 1, dTicks, dLabels, 0.85, blk.arrows, 12);
  const [l, t, r, b] = blk.frame, mid = (t + b) / 2;
  addText('low insulation', 665, t - 13, { fontSize: '13px' });
  addText('high insulation', 665, b + 5, { fontSize: '13px' });
  addText(blk.name, 596, mid, { fontSize: '13px', fontStyle: 'italic', transform: ROT });
  addText('Insulatory score', 614, mid, { fontSize: '13px', transform: ROT });
});

// ---------- panel c ----------
function freqChart(frame, series, o) {
  o = o || {};
  return makeChart(frame, [48, 2, 4, 30], {
    type: 'scatter',
    data: { datasets: series.map(s => ({ data: pts(densityBins, s.v), borderColor: s.c, borderWidth: s.w || 1.3, borderDash: s.dash || [], showLine: true, pointRadius: 0, tension: 0 })) },
    options: {
      scales: {
        x: axis(o.xMin ?? 0, o.xMax ?? 2, densityTicks, lab(densityTickLabels), { size: o.size || 10.5, tl: o.xtl ?? 3, pad: o.xpad ?? 1 }),
        y: axis(0, 0.55, freqTicks, lab(freqTickLabels), { size: o.ysize || o.size || 10.5, tl: o.ytl ?? 3, pad: o.ypad ?? 1 })
      },
      plugins: { frame: FRAME }
    }
  });
}
const cPanels = [
  { frame: [61, 405, 291, 527], e: albEBRs, t: albTADs, c: albControl, name: 'An. albimanus' },
  { frame: [336, 405, 566, 527], e: atrEBRs, t: atrTADs, c: atrControl, name: 'An. atroparvus' },
  { frame: [61, 552, 291, 674], e: steEBRs, t: steTADs, c: steControl, name: 'An. stephensi' },
  { frame: [336, 552, 566, 674], e: merEBRs, t: merTADs, c: merControl, name: 'An. merus' },
  { frame: [199, 702, 427, 823], e: colEBRs, t: colTADs, c: colControl, name: 'An. coluzzii' }
];
function legendBox(x, y, w, h) {
  const b = document.createElement('div'); b.className = 'lg';
  Object.assign(b.style, { left: x + 'px', top: y + 'px', width: w + 'px', height: h + 'px' });
  fig.appendChild(b);
}
function legendRow(x0, x1, y, colour, style, label, tx, ty, size, width) {
  const ln = document.createElement('div'); ln.className = 'ln';
  ln.style.cssText += `left:${x0}px;top:${y - 1}px;width:${x1 - x0}px;border-top:${width || 2}px ${style} ${colour};`;
  fig.appendChild(ln);
  addText(label, tx, ty ?? y, Object.assign({ fontSize: size + 'px' }, LEFT));
}
cPanels.forEach(p => {
  freqChart(p.frame, [{ v: p.e, c: BLUE }, { v: p.t, c: GREEN }, { v: p.c, c: RED }]);
  const [l, t, r, b] = p.frame, cx = (l + r) / 2;
  addText(p.name, cx + 1, t + 9, { fontSize: '13px', fontStyle: 'italic' });
  addText('Frequency', l - 32, (t + b) / 2 - 6, { fontSize: '11px', transform: ROT });
  addText('Gene density (per 5 kb)', cx + 13, b + 15, { fontSize: '11.5px' });
  const bx = r - 59, by = t + 8;
  legendBox(bx, by, 52, 42);
  legendRow(bx + 3.5, bx + 21.5, by + 8, BLUE, 'solid', 'EBRs', bx + 26, by + 8, 10.5);
  legendRow(bx + 3.5, bx + 21.5, by + 20.5, GREEN, 'solid', 'TADs', bx + 26, by + 20.5, 10.5);
  legendRow(bx + 3.5, bx + 21.5, by + 33, RED, 'solid', 'control', bx + 23.5, by + 33, 10.5);
});

// ---------- panel e ----------
function profileChart(frame, sets, o) {
  const datasets = sets.map(s => Object.assign({ showLine: true, pointRadius: 0, cubicInterpolationMode: 'monotone', borderWidth: 1.3 }, s));
  return makeChart(frame, o.pad, {
    type: 'scatter',
    data: { datasets },
    options: {
      scales: {
        x: axis(-110, 110, distTicks, lab(distTickLabels), { size: o.size, tl: o.xtl, pad: o.xpad }),
        y: axis(-0.3, 0.1, scoreTicks, lab(scoreTickLabels), { size: o.size, tl: o.ytl, pad: o.ypad })
      },
      plugins: { frame: FRAME, arrows: { list: o.arrows, head: o.head || 9, half: 4 } }
    }
  });
}
const ePanels = [
  { frame: [62, 882, 294, 1003], name: 'An. albimanus', tads: eAlbTADs, ebrs: eAlbEBRs, mean: eAlbRandom, lo: eAlbRandomLow, hi: eAlbRandomHigh },
  { frame: [340, 882, 571, 1003], name: 'An. atroparvus', tads: eAtrTADs, ebrs: eAtrEBRs, mean: eAtrRandom, lo: eAtrRandomLow, hi: eAtrRandomHigh },
  { frame: [62, 1029, 294, 1150], name: 'An. stephensi', tads: eSteTADs, ebrs: eSteEBRs, mean: eSteRandom, lo: eSteRandomLow, hi: eSteRandomHigh },
  { frame: [340, 1029, 571, 1150], name: 'An. merus', tads: eMerTADs, ebrs: eMerEBRs, mean: eMerRandom, lo: eMerRandomLow, hi: eMerRandomHigh },
  { frame: [200, 1176, 426, 1297], name: 'An. coluzzii', tads: eColTADs, ebrs: eColEBRs, mean: eColRandom, lo: eColRandomLow, hi: eColRandomHigh }
];
ePanels.forEach(p => {
  profileChart(p.frame, [
    { data: pts(distFine, p.tads), borderColor: GREEN },
    { data: pts(distCoarse, p.ebrs), borderColor: BLUE },
    { data: pts(distCoarse, p.mean), borderColor: 'rgba(25,25,25,0.85)', borderWidth: 3 },
    { data: pts(distCoarse, p.lo), borderColor: 'rgba(0,0,0,0.12)', borderWidth: 1 },
    { data: pts(distCoarse, p.hi), borderColor: 'rgba(0,0,0,0.12)', borderWidth: 1, fill: '-1', backgroundColor: 'rgba(0,0,0,0.13)' }
  ], { pad: [44, 2, 6, 24], size: 11, xtl: 2, xpad: 0, ytl: 3, ypad: 1, arrows: [[7, 0.022, 0.089], [7, -0.013, -0.277]] });
  const [l, t, r, b] = p.frame, cx = (l + r) / 2;
  addText(p.name, cx + 4, t + 9, { fontSize: '13px', fontStyle: 'italic' });
  addText('low', l + 32, t + 7, { fontSize: '10.5px' });
  addText('insulation', l + 34, t + 20, { fontSize: '10.5px' });
  addText('high', l + 35, t + 101, { fontSize: '10.5px' });
  addText('insulation', l + 35, t + 112, { fontSize: '10.5px' });
  addText('Insulatory score', l - 34, (t + b) / 2 - 5, { fontSize: '11px', transform: ROT });
  addText('Distance from EBR/TAD boundary', cx - 1, b + 18, { fontSize: '11px' });
  legendRow(r - 56, r - 39, b - 42, '#111', 'solid', 'random', r - 36, b - 42, 10.5, 2.5);
  legendBox(r - 59, b - 38, 51, 30);
  legendRow(r - 57, r - 40, b - 29.5, BLUE, 'solid', 'EBRs', r - 37, b - 29.5, 10.5);
  legendRow(r - 57, r - 40, b - 17, GREEN, 'solid', 'TADs', r - 37, b - 17, 10.5);
});

// ---------- panel f ----------
profileChart([639, 1152, 919, 1302], [
  { data: pts(distCoarse, fEBRs), borderColor: BLUE },
  { data: pts(distFine, fTADs), borderColor: GREEN },
  { data: pts(distFine, fTADsMinusEBRs), borderColor: GREEN, borderDash: [6, 3] },
  { data: pts(distFine, fTADsAndEBRs), borderColor: LIGHTGREEN, borderDash: [1.5, 2] },
  { data: pts(distCoarse, fEBRsMinusTADs), borderColor: BLUE, borderDash: [6, 3] },
  { data: pts(distFine, fEBRsAndTADs), borderColor: 'rgb(110,110,250)', borderDash: [1.5, 2] }
], { pad: [60, 2, 4, 28], size: 12.5, xtl: 2, xpad: 0, ytl: 4, ypad: 3, arrows: [[-6, 0.002, 0.085], [-6, -0.024, -0.28]], head: 11 });
addText('An. atroparvus', 787, 1139, { fontSize: '12.5px', fontStyle: 'italic' });
addText('low insulation', 910, 1142, { fontSize: '12.5px' });
addText('high insulation', 912, 1313, { fontSize: '12.5px' });
addText('Insulatory score', 597, 1222, { fontSize: '12px', transform: ROT });
addText('Distance from EBR/TAD boundary', 780, 1328, { fontSize: '12px' });
legendBox(642, 1212, 53, 88);
[['EBRs', BLUE, 'solid'], ['TADs', GREEN, 'solid'], ['TADs-EBRs', GREEN, 'dashed'], ['TADs&EBRs', LIGHTGREEN, 'dotted'], ['EBRs-TADs', BLUE, 'dashed'], ['EBRs&TADs', 'rgb(110,110,250)', 'dotted']]
  .forEach(([name, c, st], k) => legendRow(645, 665, 1220 + k * 14.5, c, st, name, 670, 1220 + k * 14.5, 11));

// ---------- panel g ----------
freqChart([1026, 1151, 1302, 1301], [
  { v: gTADs, c: GREEN },
  { v: gTADsMinusEBRs, c: GREEN, dash: [6, 3] },
  { v: gTADsAndEBRs, c: LIGHTGREEN, dash: [1.5, 2] },
  { v: gControl, c: RED }
], { xMin: 0.02, xMax: 1.94, size: 12.5, ysize: 11.5, xtl: 2, xpad: 1, ytl: 4, ypad: 4 });
addText('An. atroparvus', 1171, 1139, { fontSize: '12.5px', fontStyle: 'italic' });
addText('Frequency', 984, 1215, { fontSize: '12px', transform: ROT });
addText('Gene density (per 5 kb)', 1178, 1328, { fontSize: '12.5px' });
legendBox(1207, 1153, 100, 59);
legendRow(1212, 1232, 1162, GREEN, 'solid', 'TADs', 1235, 1162, 12.5);
legendRow(1212, 1232, 1177, GREEN, 'dashed', 'TADs-EBRs', 1235, 1177, 12.5);
legendRow(1212, 1232, 1191, LIGHTGREEN, 'dotted', 'TADs&EBRs', 1235, 1191, 12.5);
legendRow(1212, 1232, 1204, RED, 'solid', 'control', 1235, 1209, 12.5);

// ---------- shared labels ----------
addText('A-compartment', 675, 33, { fontSize: '13px' });
addText('B-compartment', 674, 174, { fontSize: '13px' });
addText('An. coluzzii', 596, 104, { fontSize: '12px', fontStyle: 'italic', transform: ROT });
addText('cePC1', 614, 104, { fontSize: '12px', transform: ROT });
[['a', 16, 18], ['b', 581, 18], ['c', 17, 381], ['d', 580, 221], ['e', 18, 857], ['f', 590, 1121], ['g', 983, 1124]]
  .forEach(([s, x, y]) => addText(s, x, y, { fontSize: '18px', fontWeight: 'bold', color: '#111' }));
</script>
</body>
</html>
